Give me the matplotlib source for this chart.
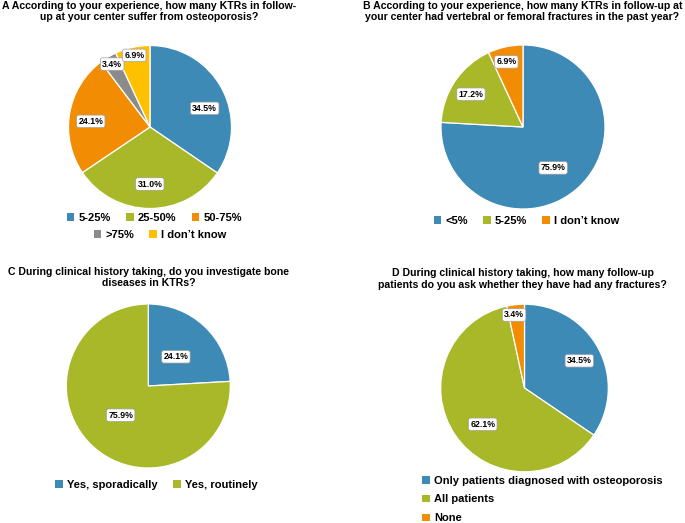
import matplotlib
matplotlib.use("Agg")
import matplotlib.pyplot as plt
from matplotlib.patches import Patch
import numpy as np

plt.rcParams['font.family'] = ['Liberation Sans', 'DejaVu Sans']

W, H = 685, 523

BLUE = '#3E8AB6'
GREEN = '#A8B829'
ORANGE = '#F28C02'
GRAY = '#8B8B8B'
YELLOW = '#FFC000'

# ---- data ----
a_title = "A According to your experience, how many KTRs in follow-\nup at your center suffer from osteoporosis?"
a_labels = ["5-25%", "25-50%", "50-75%", ">75%", "I don\u2019t know"]
a_values = [34.5, 31.0, 24.1, 3.4, 6.9]

b_title = "B According to your experience, how many KTRs in follow-up at\nyour center had vertebral or femoral fractures in the past year?"
b_labels = ["<5%", "5-25%", "I don\u2019t know"]
b_values = [75.9, 17.2, 6.9]

c_title = "C During clinical history taking, do you investigate bone\ndiseases in KTRs?"
c_labels = ["Yes, sporadically", "Yes, routinely"]
c_values = [24.1, 75.9]

d_title = "D During clinical history taking, how many follow-up\npatients do you ask whether they have had any fractures?"
d_labels = ["Only patients diagnosed with osteoporosis", "All patients", "None"]
d_values = [34.5, 62.1, 3.4]

fig = plt.figure(figsize=(W / 100, H / 100), dpi=100)


def make_pie(cx, cy, r, values, colors, dists, nudges):
    ax = fig.add_axes([(cx - r) / W, (H - cy - r) / H, 2 * r / W, 2 * r / H])
    wedges, _ = ax.pie(values, colors=colors, startangle=90, counterclock=False,
                       radius=1, wedgeprops=dict(edgecolor='white', linewidth=0.9))
    for w, v, d, n in zip(wedges, values, dists, nudges):
        ang = np.deg2rad((w.theta1 + w.theta2) / 2 + n)
        ax.text(d * np.cos(ang), d * np.sin(ang), f"{v:.1f}%", ha='center', va='center',
                fontsize=6.3, fontweight='bold', color='black',
                bbox=dict(boxstyle='round,pad=0.2,rounding_size=0.25', fc='white',
                          ec='#A0A0A0', lw=0.5))
    ax.set_xlim(-1, 1)
    ax.set_ylim(-1, 1)
    ax.set_aspect('equal')
    ax.axis('off')
    return [Patch(facecolor=c, edgecolor='none') for c in colors]


def title(x, y, s):
    fig.text(x / W, 1 - y / H, s, ha='center', va='center', multialignment='center',
             fontsize=7.55, fontweight='bold', linespacing=1.15)


def legend(handles, labels, x, y, ncol, loc='center', **kw):
    fig.legend(handles, labels, loc=loc, bbox_to_anchor=(x / W, 1 - y / H), ncol=ncol,
               frameon=False, handlelength=0.68, handleheight=0.68,
               handletextpad=0.4, columnspacing=1.35, borderpad=0, borderaxespad=0,
               prop=dict(weight='bold', size=8), **kw)


# A
ha = make_pie(150, 127, 81.5, a_values, [BLUE, GREEN, ORANGE, GRAY, YELLOW],
              [0.71, 0.7, 0.73, 0.9, 0.9], [-9, 0, 4, 0, 0])
title(149, 11.5, a_title)
legend(ha[:3], a_labels[:3], 154.5, 218, 3)
legend(ha[3:], a_labels[3:], 160, 235, 2)

# B
hb = make_pie(523, 127, 82, b_values, [BLUE, GREEN, ORANGE],
              [0.62, 0.75, 0.82], [-7, 2, 2])
title(522.5, 11.7, b_title)
legend(hb, b_labels, 526.5, 221, 3)

# C
hc = make_pie(148.3, 386, 82, c_values, [BLUE, GREEN],
              [0.49, 0.49], [0, 0])
title(149, 277.8, c_title)
legend(hc, c_labels, 156.5, 485, 2)

# D
hd = make_pie(524.5, 388, 83.8, d_values, [BLUE, GREEN, ORANGE],
              [0.73, 0.66, 0.88], [-1.5, 7, 2])
title(522.5, 279, d_title)
legend(hd, d_labels, 422, 499.5, 1, loc='center left', labelspacing=0.8)

fig.savefig('out.png', dpi=100)
